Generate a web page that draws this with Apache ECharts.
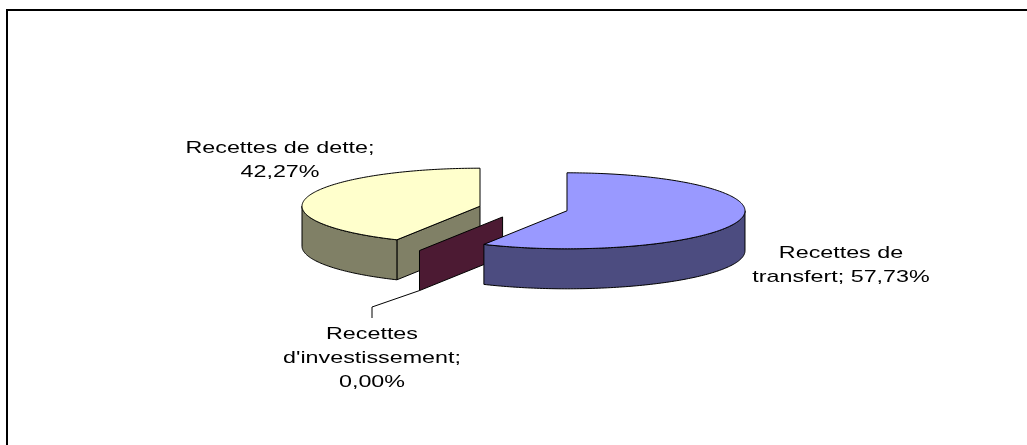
<!DOCTYPE html>
<html>
<head>
<meta charset="utf-8">
<script src="https://cdn.jsdelivr.net/npm/echarts@6/dist/echarts.min.js"></script>
<style>
  html, body { margin: 0; padding: 0; background: #fff; }
  #main { width: 1027px; height: 445px; }
</style>
</head>
<body>
<div id="main"></div>
<script>
// data
const categories = ['Recettes de transfert', "Recettes d'investissement", 'Recettes de dette'];
const values = [57.73, 0.00, 42.27];
// label text as wrapped in the picture (name + ';')
const labelNames = ['Recettes de\ntransfert;', "Recettes\nd'investissement;\n", 'Recettes de dette;\n'];

// excel default palette, side = half brightness of top
const topColors = ['#9999FF', '#993366', '#FFFFCC'];
const sideColors = ['#4C4C80', '#4C1A33', '#808066'];

// layout of the 3d pie (pixels)
const pie = { cx: 523.5, cy: 208.5, rx: 178, ry: 38, depth: 40, explode: 44.8 };
const labelPos = [[841, 265], [372, 358], [280, 160]];
const leaderElbow = [[372, 307], [372, 318]];

const total = values.reduce((a, b) => a + b, 0);
const startAngles = [];
values.reduce((acc, v) => { startAngles.push(acc / total * Math.PI * 2); return acc + v; }, 0);

const chartDom = document.getElementById('main');
const myChart = echarts.init(chartDom);

function pt(c, a, r, dz) {
    return [c[0] + pie.rx * r * Math.sin(a), c[1] - pie.ry * r * Math.cos(a) + (dz || 0)];
}

function arc(c, a1, a2, dz) {
    const pts = [];
    const n = Math.max(2, Math.ceil((a2 - a1) / (Math.PI / 180)));
    for (let k = 0; k <= n; k++) {
        pts.push(pt(c, a1 + (a2 - a1) * k / n, 1, dz));
    }
    return pts;
}

function fmt(v) {
    return v.toFixed(2).replace('.', ',') + '%';
}

function renderItem(params, api) {
    const i = params.dataIndex;
    const v = api.value(0);
    const a1 = startAngles[i];
    const a2 = a1 + v / total * Math.PI * 2;
    const mid = (a1 + a2) / 2;
    // exploded centre
    const c = [
        pie.cx + pie.explode * Math.sin(mid),
        pie.cy - pie.explode * (pie.ry / pie.rx) * Math.cos(mid)
    ];
    const z = (values.length - i) * 10;
    const line = { stroke: '#000', lineWidth: 1 };
    const children = [];

    // radial walls facing the viewer
    const walls = [];
    if (Math.sin(a1) < 0) walls.push(a1);
    if (a2 - a1 > 1e-6 && Math.sin(a2) > 0) walls.push(a2);
    walls.forEach(a => {
        const o = pt(c, a, 1);
        children.push({
            type: 'polygon', z2: z,
            shape: { points: [c, o, [o[0], o[1] + pie.depth], [c[0], c[1] + pie.depth]] },
            style: Object.assign({ fill: sideColors[i] }, line)
        });
    });

    // curved outer side, front half only
    const s = Math.max(a1, Math.PI / 2);
    const e = Math.min(a2, Math.PI * 1.5);
    if (e - s > 1e-6) {
        const topArc = arc(c, s, e, 0);
        const botArc = arc(c, s, e, pie.depth).reverse();
        children.push({
            type: 'polygon', z2: z + 1,
            shape: { points: topArc.concat(botArc) },
            style: Object.assign({ fill: sideColors[i] }, line)
        });
    }

    // top face
    if (a2 - a1 > 1e-6) {
        children.push({
            type: 'polygon', z2: z + 2,
            shape: { points: [c].concat(arc(c, a1, a2, 0)) },
            style: Object.assign({ fill: topColors[i] }, line)
        });
    }

    // leader line for the empty slice
    if (v === 0) {
        const o = pt(c, a1, 1, pie.depth);
        children.push({
            type: 'polyline', z2: z + 3,
            shape: { points: [o].concat(leaderElbow) },
            style: { stroke: '#000', lineWidth: 1, fill: null }
        });
    }

    // label
    const name = labelNames[i];
    children.push({
        type: 'text', z2: 100,
        x: labelPos[i][0], y: labelPos[i][1],
        scaleX: 1.37,
        style: {
            text: name + (name.endsWith('\n') ? '' : ' ') + fmt(v),
            x: 0, y: 0,
            align: 'center', verticalAlign: 'middle',
            fill: '#000',
            fontFamily: '"Liberation Sans", Arial, sans-serif',
            fontSize: 17,
            lineHeight: 24
        }
    });

    return { type: 'group', children: children };
}

const option = {
    backgroundColor: '#fff',
    animation: false,
    graphic: [
        {
            type: 'polyline',
            shape: { points: [[7, 445], [7, 10], [1027, 10]] },
            style: { stroke: '#000', lineWidth: 2, fill: null }
        }
    ],
    series: [
        {
            type: 'custom',
            name: 'Recettes',
            coordinateSystem: 'none',
            silent: true,
            renderItem: renderItem,
            data: values.map((v, i) => ({ name: categories[i], value: [v, i] }))
        }
    ]
};

myChart.setOption(option);
</script>
</body>
</html>
